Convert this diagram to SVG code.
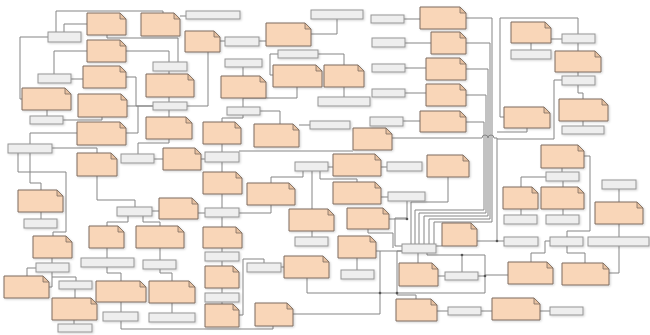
<svg xmlns="http://www.w3.org/2000/svg" width="650" height="335" viewBox="0 0 650 335">
<defs>
<filter id="sh" x="-10%" y="-20%" width="130%" height="160%"><feDropShadow dx="1" dy="1" stdDeviation="1" flood-color="#000" flood-opacity="0.18"/></filter>
<style>
.c path{fill:none;stroke:#858585;stroke-width:1}
.c circle{fill:#555}
.n > g{filter:url(#sh)}
.r > g{filter:url(#sh)}
.n .b{fill:#f9d6b8;stroke:#7f6d60;stroke-width:1}
.n .f{fill:#e6c0a0;stroke:#7f6d60;stroke-width:0.8}
.r rect{fill:#eeeeee;stroke:#959595;stroke-width:1}
</style>
</defs>
<rect width="650" height="335" fill="#ffffff"/>
<g class="c" id="connectors">
<path d="M56,32V11H163V13"/>
<path d="M64,32V24H87"/>
<path d="M48,37H20V99H22"/>
<path d="M107,35V38H178V62"/>
<path d="M87,51H54V74"/>
<path d="M126,51H169V62"/>
<path d="M71,79H83"/>
<path d="M126,77H136V106H153"/>
<path d="M47,110V116"/>
<path d="M63,120H102V117"/>
<path d="M127,106H153"/>
<path d="M126,133H138V106"/>
<path d="M77,133H30V144"/>
<path d="M52,148H97V153"/>
<path d="M30,153V183H41V190"/>
<path d="M18,153V172H66V232H53V236"/>
<path d="M180,16H186"/>
<path d="M220,41H225"/>
<path d="M259,41H266"/>
<path d="M311,34H337V19"/>
<path d="M208,52V106H187"/>
<path d="M169,71V74"/>
<path d="M169,97V102"/>
<path d="M169,110V117"/>
<path d="M169,139V143H138V154"/>
<path d="M154,159H163"/>
<path d="M201,159H205"/>
<path d="M243,67V76"/>
<path d="M243,98V107"/>
<path d="M297,87V98H243"/>
<path d="M278,54H270V75H273"/>
<path d="M318,54H344V65"/>
<path d="M344,87V97"/>
<path d="M260,111H280V124"/>
<path d="M243,115V118H222V122"/>
<path d="M222,144V152"/>
<path d="M299,125H310"/>
<path d="M239,151H353"/>
<path d="M404,19H420"/>
<path d="M405,43H431"/>
<path d="M405,68H426"/>
<path d="M405,93H426"/>
<path d="M403,121H420"/>
<path d="M466,18H492V222H434V244"/>
<path d="M466,43H490V219H429V244"/>
<path d="M466,69H488V216H424V244"/>
<path d="M466,95H486V213H419V244"/>
<path d="M466,122H484V210H415V244"/>
<path d="M448,177V202H411V244"/>
<path d="M392,138H482a3,3 0 0 1 6,0a3,3 0 0 1 6,0H497V241"/>
<path d="M527,128V132H497"/>
<path d="M562,80H554V139H497"/>
<path d="M578,34V18H500V117H504"/>
<path d="M531,43V50"/>
<path d="M551,39H562"/>
<path d="M578,43V51"/>
<path d="M578,72V76"/>
<path d="M578,85V93H583V99"/>
<path d="M583,121V126"/>
<path d="M584,156H590V231H567V237"/>
<path d="M562,168V172"/>
<path d="M546,177H521V187"/>
<path d="M563,181V187"/>
<path d="M521,209V215"/>
<path d="M563,209V215"/>
<path d="M619,189V202"/>
<path d="M619,224V237"/>
<path d="M619,246V273H609"/>
<path d="M567,246V253H585V263"/>
<path d="M550,241H545V253H531V262"/>
<path d="M477,241H504"/>
<path d="M97,176V200H135V207"/>
<path d="M152,211H159"/>
<path d="M143,216V222H160V226"/>
<path d="M128,216V222H107V226"/>
<path d="M107,248V258"/>
<path d="M107,267V273H121V281"/>
<path d="M121,302V312"/>
<path d="M121,321V329H273V326"/>
<path d="M160,248V260"/>
<path d="M160,269V273H172V281"/>
<path d="M172,303V313"/>
<path d="M41,212V219"/>
<path d="M52,258V263"/>
<path d="M36,268H27V276"/>
<path d="M52,272V277H76V281"/>
<path d="M49,287H52V277"/>
<path d="M75,289V298"/>
<path d="M74,320V324"/>
<path d="M222,162V172"/>
<path d="M222,194V208"/>
<path d="M198,213H205"/>
<path d="M239,213H271V205"/>
<path d="M222,217V227"/>
<path d="M222,248V252"/>
<path d="M222,261V266"/>
<path d="M222,288V293"/>
<path d="M222,302V304"/>
<path d="M239,315H243V259H264V263"/>
<path d="M281,267H284"/>
<path d="M307,278V293H485V255H427V253"/>
<path d="M293,314H380V251"/>
<path d="M376,251H402"/>
<path d="M357,258V270"/>
<path d="M312,231V237"/>
<path d="M328,167H333"/>
<path d="M312,171V209"/>
<path d="M303,171V177H271V183"/>
<path d="M320,171V179H357V182"/>
<path d="M381,167H387"/>
<path d="M381,197H388"/>
<path d="M407,201V218H395V246H402"/>
<path d="M389,219H407"/>
<path d="M368,229V233H393V248"/>
<path d="M418,253V263"/>
<path d="M402,251H397V295H416V299"/>
<path d="M462,255V272"/>
<path d="M438,276H445"/>
<path d="M478,276H485"/>
<path d="M485,275H508"/>
<path d="M437,311H448"/>
<path d="M481,311H492"/>
<path d="M540,311H550"/>
<path d="M436,246H442"/>
<circle cx="380" cy="293" r="1.3"/>
<circle cx="397" cy="293" r="1.3"/>
<circle cx="462" cy="255" r="1.3"/>
<circle cx="485" cy="276" r="1.3"/>
<circle cx="497" cy="241" r="1.3"/>
<circle cx="407" cy="219" r="1.3"/>
</g>
<g class="n">
<g id="n1"><path class="b" d="M87,13h33l6,6v16h-39z"/><path class="f" d="M120,13v6h6z"/></g>
<g id="n2"><path class="b" d="M141,13h33l6,6v17h-39z"/><path class="f" d="M174,13v6h6z"/></g>
<g id="n3"><path class="b" d="M185,31h29l6,6v15h-35z"/><path class="f" d="M214,31v6h6z"/></g>
<g id="n4"><path class="b" d="M266,23h39l6,6v17h-45z"/><path class="f" d="M305,23v6h6z"/></g>
<g id="n5"><path class="b" d="M87,40h33l6,6v16h-39z"/><path class="f" d="M120,40v6h6z"/></g>
<g id="n6"><path class="b" d="M83,66h37l6,6v16h-43z"/><path class="f" d="M120,66v6h6z"/></g>
<g id="n7"><path class="b" d="M146,74h42l6,6v17h-48z"/><path class="f" d="M188,74v6h6z"/></g>
<g id="n8"><path class="b" d="M22,88h43l6,6v16h-49z"/><path class="f" d="M65,88v6h6z"/></g>
<g id="n9"><path class="b" d="M78,94h43l6,6v17h-49z"/><path class="f" d="M121,94v6h6z"/></g>
<g id="n10"><path class="b" d="M221,76h39l6,6v16h-45z"/><path class="f" d="M260,76v6h6z"/></g>
<g id="n11"><path class="b" d="M273,65h43l6,6v16h-49z"/><path class="f" d="M316,65v6h6z"/></g>
<g id="n12"><path class="b" d="M324,65h34l6,6v16h-40z"/><path class="f" d="M358,65v6h6z"/></g>
<g id="n13"><path class="b" d="M77,122h43l6,6v17h-49z"/><path class="f" d="M120,122v6h6z"/></g>
<g id="n14"><path class="b" d="M146,117h40l6,6v16h-46z"/><path class="f" d="M186,117v6h6z"/></g>
<g id="n15"><path class="b" d="M203,122h32l6,6v16h-38z"/><path class="f" d="M235,122v6h6z"/></g>
<g id="n16"><path class="b" d="M254,124h39l6,6v17h-45z"/><path class="f" d="M293,124v6h6z"/></g>
<g id="n17"><path class="b" d="M353,128h33l6,6v16h-39z"/><path class="f" d="M386,128v6h6z"/></g>
<g id="n18"><path class="b" d="M420,7h40l6,6v16h-46z"/><path class="f" d="M460,7v6h6z"/></g>
<g id="n19"><path class="b" d="M431,32h29l6,6v16h-35z"/><path class="f" d="M460,32v6h6z"/></g>
<g id="n20"><path class="b" d="M426,58h34l6,6v16h-40z"/><path class="f" d="M460,58v6h6z"/></g>
<g id="n21"><path class="b" d="M426,84h34l6,6v16h-40z"/><path class="f" d="M460,84v6h6z"/></g>
<g id="n22"><path class="b" d="M420,111h40l6,6v15h-46z"/><path class="f" d="M460,111v6h6z"/></g>
<g id="n23"><path class="b" d="M511,22h34l6,6v15h-40z"/><path class="f" d="M545,22v6h6z"/></g>
<g id="n24"><path class="b" d="M555,51h40l6,6v15h-46z"/><path class="f" d="M595,51v6h6z"/></g>
<g id="n25"><path class="b" d="M504,107h40l6,6v15h-46z"/><path class="f" d="M544,107v6h6z"/></g>
<g id="n26"><path class="b" d="M559,99h43l6,6v16h-49z"/><path class="f" d="M602,99v6h6z"/></g>
<g id="n27"><path class="b" d="M541,145h37l6,6v17h-43z"/><path class="f" d="M578,145v6h6z"/></g>
<g id="n28"><path class="b" d="M77,153h34l6,6v17h-40z"/><path class="f" d="M111,153v6h6z"/></g>
<g id="n29"><path class="b" d="M163,148h32l6,6v16h-38z"/><path class="f" d="M195,148v6h6z"/></g>
<g id="n30"><path class="b" d="M333,154h42l6,6v16h-48z"/><path class="f" d="M375,154v6h6z"/></g>
<g id="n31"><path class="b" d="M427,155h36l6,6v16h-42z"/><path class="f" d="M463,155v6h6z"/></g>
<g id="n32"><path class="b" d="M18,190h39l6,6v16h-45z"/><path class="f" d="M57,190v6h6z"/></g>
<g id="n33"><path class="b" d="M159,198h33l6,6v15h-39z"/><path class="f" d="M192,198v6h6z"/></g>
<g id="n34"><path class="b" d="M203,172h33l6,6v16h-39z"/><path class="f" d="M236,172v6h6z"/></g>
<g id="n35"><path class="b" d="M247,183h42l6,6v16h-48z"/><path class="f" d="M289,183v6h6z"/></g>
<g id="n36"><path class="b" d="M333,182h42l6,6v16h-48z"/><path class="f" d="M375,182v6h6z"/></g>
<g id="n37"><path class="b" d="M347,208h36l6,6v15h-42z"/><path class="f" d="M383,208v6h6z"/></g>
<g id="n38"><path class="b" d="M289,209h39l6,6v16h-45z"/><path class="f" d="M328,209v6h6z"/></g>
<g id="n39"><path class="b" d="M503,187h29l6,6v16h-35z"/><path class="f" d="M532,187v6h6z"/></g>
<g id="n40"><path class="b" d="M541,187h37l6,6v16h-43z"/><path class="f" d="M578,187v6h6z"/></g>
<g id="n41"><path class="b" d="M595,202h42l6,6v16h-48z"/><path class="f" d="M637,202v6h6z"/></g>
<g id="n42"><path class="b" d="M33,236h33l6,6v16h-39z"/><path class="f" d="M66,236v6h6z"/></g>
<g id="n43"><path class="b" d="M89,226h29l6,6v16h-35z"/><path class="f" d="M118,226v6h6z"/></g>
<g id="n44"><path class="b" d="M136,226h42l6,6v16h-48z"/><path class="f" d="M178,226v6h6z"/></g>
<g id="n45"><path class="b" d="M203,227h33l6,6v15h-39z"/><path class="f" d="M236,227v6h6z"/></g>
<g id="n46"><path class="b" d="M338,236h32l6,6v16h-38z"/><path class="f" d="M370,236v6h6z"/></g>
<g id="n47"><path class="b" d="M442,223h29l6,6v17h-35z"/><path class="f" d="M471,223v6h6z"/></g>
<g id="n48"><path class="b" d="M284,256h39l6,6v16h-45z"/><path class="f" d="M323,256v6h6z"/></g>
<g id="n49"><path class="b" d="M399,263h33l6,6v17h-39z"/><path class="f" d="M432,263v6h6z"/></g>
<g id="n50"><path class="b" d="M508,262h39l6,6v16h-45z"/><path class="f" d="M547,262v6h6z"/></g>
<g id="n51"><path class="b" d="M562,263h41l6,6v16h-47z"/><path class="f" d="M603,263v6h6z"/></g>
<g id="n52"><path class="b" d="M4,276h39l6,6v16h-45z"/><path class="f" d="M43,276v6h6z"/></g>
<g id="n53"><path class="b" d="M205,266h28l6,6v16h-34z"/><path class="f" d="M233,266v6h6z"/></g>
<g id="n54"><path class="b" d="M96,281h44l6,6v15h-50z"/><path class="f" d="M140,281v6h6z"/></g>
<g id="n55"><path class="b" d="M149,281h40l6,6v16h-46z"/><path class="f" d="M189,281v6h6z"/></g>
<g id="n56"><path class="b" d="M52,298h39l6,6v16h-45z"/><path class="f" d="M91,298v6h6z"/></g>
<g id="n57"><path class="b" d="M205,304h28l6,6v17h-34z"/><path class="f" d="M233,304v6h6z"/></g>
<g id="n58"><path class="b" d="M255,303h32l6,6v17h-38z"/><path class="f" d="M287,303v6h6z"/></g>
<g id="n59"><path class="b" d="M396,299h35l6,6v16h-41z"/><path class="f" d="M431,299v6h6z"/></g>
<g id="n60"><path class="b" d="M492,298h42l6,6v16h-48z"/><path class="f" d="M534,298v6h6z"/></g>
</g>
<g class="r">
<g id="r1"><rect x="48" y="32" width="33" height="10"/></g>
<g id="r2"><rect x="186" y="11" width="54" height="8"/></g>
<g id="r3"><rect x="225" y="37" width="34" height="9"/></g>
<g id="r4"><rect x="311" y="10" width="52" height="9"/></g>
<g id="r5"><rect x="371" y="15" width="33" height="8"/></g>
<g id="r6"><rect x="372" y="38" width="33" height="9"/></g>
<g id="r7"><rect x="372" y="64" width="33" height="8"/></g>
<g id="r8"><rect x="372" y="89" width="33" height="8"/></g>
<g id="r9"><rect x="370" y="117" width="33" height="9"/></g>
<g id="r10"><rect x="278" y="50" width="40" height="8"/></g>
<g id="r11"><rect x="225" y="59" width="37" height="8"/></g>
<g id="r12"><rect x="153" y="62" width="34" height="9"/></g>
<g id="r13"><rect x="38" y="74" width="33" height="9"/></g>
<g id="r14"><rect x="153" y="102" width="34" height="8"/></g>
<g id="r15"><rect x="30" y="116" width="33" height="8"/></g>
<g id="r16"><rect x="227" y="107" width="33" height="8"/></g>
<g id="r17"><rect x="318" y="97" width="52" height="9"/></g>
<g id="r18"><rect x="310" y="121" width="40" height="8"/></g>
<g id="r19"><rect x="8" y="144" width="44" height="9"/></g>
<g id="r20"><rect x="121" y="154" width="33" height="9"/></g>
<g id="r21"><rect x="205" y="152" width="34" height="10"/></g>
<g id="r22"><rect x="295" y="162" width="33" height="9"/></g>
<g id="r23"><rect x="387" y="162" width="35" height="9"/></g>
<g id="r24"><rect x="388" y="192" width="37" height="9"/></g>
<g id="r25"><rect x="511" y="50" width="40" height="9"/></g>
<g id="r26"><rect x="562" y="34" width="33" height="9"/></g>
<g id="r27"><rect x="562" y="76" width="33" height="9"/></g>
<g id="r28"><rect x="562" y="126" width="42" height="8"/></g>
<g id="r29"><rect x="546" y="172" width="33" height="9"/></g>
<g id="r30"><rect x="602" y="180" width="34" height="9"/></g>
<g id="r31"><rect x="504" y="215" width="33" height="9"/></g>
<g id="r32"><rect x="546" y="215" width="33" height="9"/></g>
<g id="r33"><rect x="504" y="237" width="34" height="9"/></g>
<g id="r34"><rect x="550" y="237" width="33" height="9"/></g>
<g id="r35"><rect x="588" y="237" width="61" height="9"/></g>
<g id="r36"><rect x="117" y="207" width="35" height="9"/></g>
<g id="r37"><rect x="205" y="208" width="34" height="9"/></g>
<g id="r38"><rect x="24" y="219" width="33" height="9"/></g>
<g id="r39"><rect x="36" y="263" width="33" height="9"/></g>
<g id="r40"><rect x="81" y="258" width="53" height="9"/></g>
<g id="r41"><rect x="143" y="260" width="33" height="9"/></g>
<g id="r42"><rect x="205" y="252" width="34" height="9"/></g>
<g id="r43"><rect x="247" y="263" width="34" height="9"/></g>
<g id="r44"><rect x="295" y="237" width="33" height="9"/></g>
<g id="r45"><rect x="341" y="270" width="33" height="9"/></g>
<g id="r46"><rect x="402" y="244" width="34" height="9"/></g>
<g id="r47"><rect x="445" y="272" width="33" height="8"/></g>
<g id="r48"><rect x="59" y="281" width="33" height="8"/></g>
<g id="r49"><rect x="103" y="312" width="35" height="9"/></g>
<g id="r50"><rect x="149" y="313" width="46" height="9"/></g>
<g id="r51"><rect x="58" y="324" width="34" height="8"/></g>
<g id="r52"><rect x="205" y="293" width="34" height="9"/></g>
<g id="r53"><rect x="448" y="307" width="33" height="8"/></g>
<g id="r54"><rect x="550" y="307" width="33" height="8"/></g>
</g>
</svg>
